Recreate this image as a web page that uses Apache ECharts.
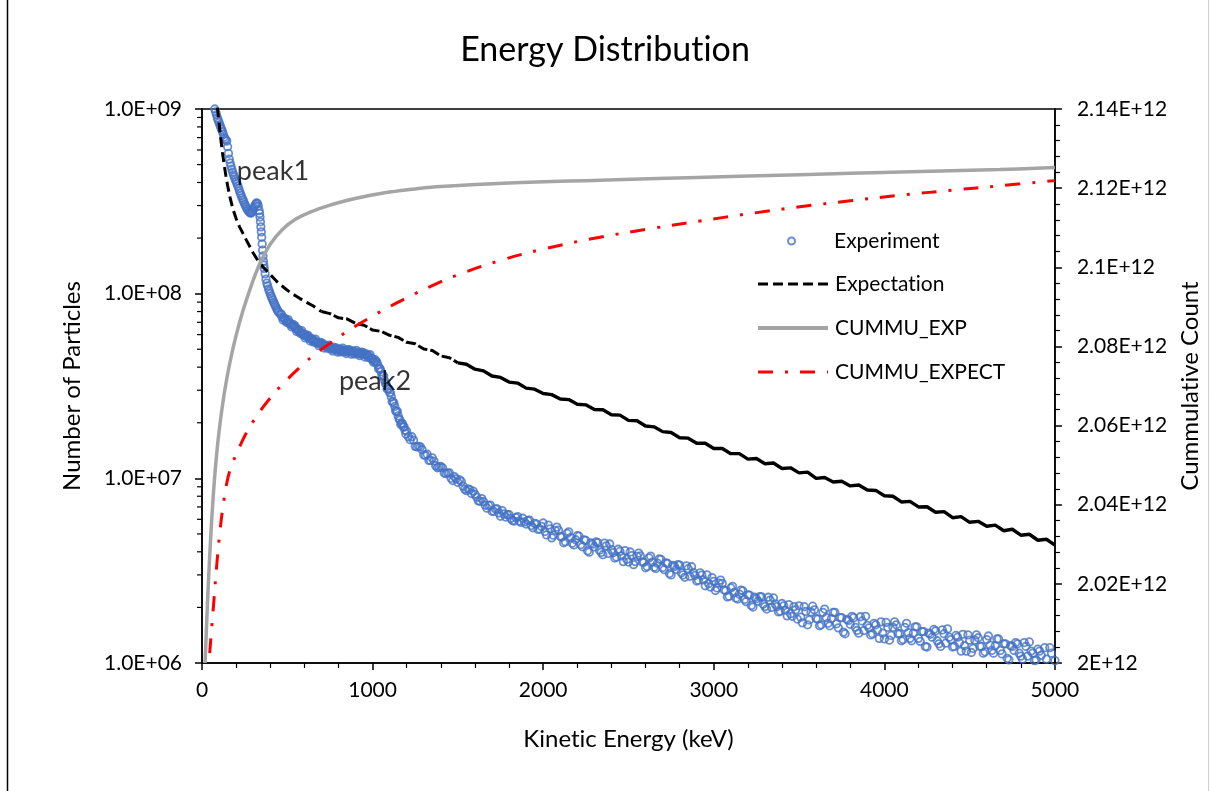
<!DOCTYPE html>
<html>
<head>
<meta charset="utf-8">
<title>Energy Distribution</title>
<script src="https://cdn.jsdelivr.net/npm/echarts@6/dist/echarts.min.js"></script>
<style>
  html, body { margin: 0; padding: 0; background: #ffffff; }
  #chart { width: 1210px; height: 791px; }
</style>
</head>
<body>
<div id="chart"></div>
<script>
// ---- Measured spectrum, main sampling (keV, particle count) ----
const experimentEnergy = [
  75,80,85,90,95,100,105,110,115,120,125,130,135,140,145,150,155,160,165,170,175,180,185,190,195,200,
  205,210,215,220,225,230,235,240,245,250,255,260,265,270,275,280,285,290,295,300,305,310,315,320,325,
  330,335,337.5,340,342.5,345,347.5,350,352.5,355,357.5,360,362.5,365,370,375,380,385,390,395,400,405,
  410,415,420,425,430,435,440,445,450,
  460,470,480,490,500,510,520,530,540,550,560,570,580,590,600,610,620,630,640,650,660,670,680,690,700,
  710,720,730,740,750,760,770,780,790,800,810,820,830,840,850,860,870,880,890,900,910,920,930,940,950,
  960,970,980,990,1000,1010,1020,1030,1040,1050,1060,1070,1080,1090,1100,1110,1120,1130,1140,1150,1160,
  1170,1180,1190,
  1200,1220,1240,1260,1280,1300,1320,1340,1360,1380,1400,1420,1440,1460,1480,1500,1520,1540,1560,1580,
  1600,1620,1640,1660,1680,1700,1720,1740,1760,1780,1800,1820,1840,1860,1880,1900,1920,1940,1960,1980,
  2000,2020,2040,2060,2080,2100,2120,2140,2160,2180,2200,2220,2240,2260,2280,2300,2320,2340,2360,2380,
  2400,2420,2440,2460,2480,2500,2520,2540,2560,2580,2600,2620,2640,2660,2680,2700,2720,2740,2760,2780,
  2800,2820,2840,2860,2880,2900,2920,2940,2960,2980,3000,3020,3040,3060,3080,3100,3120,3140,3160,3180,
  3200,3220,3240,3260,3280,3300,3320,3340,3360,3380,3400,3420,3440,3460,3480,3500,3520,3540,3560,3580,
  3600,3620,3640,3660,3680,3700,3720,3740,3760,3780,3800,3820,3840,3860,3880,3900,3920,3940,3960,3980,
  4000,4020,4040,4060,4080,4100,4120,4140,4160,4180,4200,4220,4240,4260,4280,4300,4320,4340,4360,4380,
  4400,4420,4440,4460,4480,4500,4520,4540,4560,4580,4600,4620,4640,4660,4680,4700,4720,4740,4760,4780,
  4800,4820,4840,4860,4880,4900,4920,4940,4960,4980,5000
];
const experimentCounts = [
  1.0e9,9.65e8,9.3e8,8.95e8,8.7e8,8.45e8,8.2e8,7.95e8,7.75e8,7.55e8,7.3e8,7.05e8,6.9e8,6.8e8,6.7e8,6.25e8,
  5.75e8,5.35e8,5.1e8,4.9e8,4.72e8,4.55e8,4.4e8,4.28e8,4.15e8,4.05e8,
  3.95e8,3.83e8,3.72e8,3.6e8,3.5e8,3.4e8,3.3e8,3.22e8,3.14e8,3.06e8,2.99e8,2.93e8,2.87e8,2.82e8,2.78e8,
  2.75e8,2.73e8,2.74e8,2.78e8,2.84e8,2.92e8,3.0e8,3.06e8,3.1e8,3.08e8,
  2.98e8,2.82e8,2.72e8,2.6e8,2.45e8,2.3e8,2.16e8,2.02e8,1.86e8,1.72e8,1.6e8,1.5e8,1.43e8,1.37e8,1.28e8,
  1.2e8,1.14e8,1.1e8,1.06e8,1.03e8,1.0e8,9.7e7,
  9.45e7,9.25e7,9.0e7,8.8e7,8.6e7,8.4e7,8.2e7,8.05e7,7.9e7,
  7.75e7,7.45e7,7.4e7,7.15e7,7.12e7,6.92e7,6.9e7,6.72e7,6.66e7,6.46e7,6.42e7,6.24e7,6.2e7,6.04e7,6.01e7,
  5.86e7,5.85e7,5.71e7,5.7e7,5.57e7,5.57e7,5.44e7,5.45e7,5.33e7,5.35e7,
  5.23e7,5.26e7,5.14e7,5.17e7,5.06e7,5.1e7,4.99e7,5.04e7,4.94e7,5.0e7,4.9e7,4.97e7,4.87e7,4.94e7,4.84e7,
  4.91e7,4.82e7,4.89e7,4.79e7,4.84e7,4.74e7,4.8e7,4.71e7,4.76e7,4.67e7,
  4.7e7,4.6e7,4.6e7,4.47e7,4.44e7,4.3e7,4.27e7,4.12e7,3.96e7,3.78e7,3.58e7,3.4e7,3.22e7,3.06e7,2.92e7,
  2.76e7,2.6e7,2.45e7,2.3e7,2.18e7,2.07e7,
  1.98e7,1.9e7,1.82e7,
  1.80e7,1.62e7,1.61e7,1.48e7,1.48e7,1.34e7,1.35e7,1.25e7,1.24e7,1.14e7,1.16e7,1.07e7,1.07e7,1.0e7,1.02e7,
  9.5e6,9.62e6,8.73e6,8.76e6,8.27e6,
  8.2e6,7.55e6,7.77e6,7.15e6,7.13e6,6.63e6,6.83e6,6.49e6,6.69e6,6.17e6,6.36e6,5.91e6,6.13e6,5.87e6,6.08e6,
  5.66e6,5.93e6,5.40e6,5.66e6,5.32e6,
  5.73e6,4.94e6,5.32e6,4.92e6,5.44e6,4.85e6,4.48e6,5.03e6,4.77e6,4.36e6,4.89e6,4.37e6,4.64e6,4.05e6,4.47e6,
  4.25e6,4.49e6,3.97e6,4.46e6,3.92e6,
  4.11e6,3.70e6,4.13e6,3.80e6,4.06e6,3.52e6,3.81e6,3.54e6,3.94e6,3.53e6,3.28e6,3.71e6,3.52e6,3.25e6,3.66e6,
  3.29e6,3.48e6,3.05e6,3.38e6,3.21e6,
  3.39e6,3.00e6,3.36e6,2.95e6,3.09e6,2.78e6,3.08e6,2.82e6,3.00e6,2.58e6,2.77e6,2.55e6,2.81e6,2.49e6,2.28e6,
  2.55e6,2.41e6,2.22e6,2.48e6,2.21e6,
  2.34e6,2.05e6,2.27e6,2.16e6,2.28e6,2.02e6,2.27e6,2.00e6,2.09e6,1.89e6,2.10e6,1.93e6,2.07e6,1.79e6,1.94e6,
  2.04e6,1.65e6,1.90e6,1.71e6,2.03e6,
  1.74e6,1.59e6,1.88e6,1.76e6,1.59e6,1.88e6,1.63e6,1.76e6,1.47e6,1.72e6,1.62e6,1.76e6,1.50e6,1.78e6,1.50e6,
  1.60e6,1.42e6,1.64e6,1.51e6,1.67e6,
  1.35e6,1.56e6,1.41e6,1.67e6,1.44e6,1.32e6,1.56e6,1.46e6,1.32e6,1.57e6,1.36e6,1.48e6,1.23e6,1.45e6,1.38e6,
  1.49e6,1.27e6,1.51e6,1.28e6,1.38e6,
  1.22e6,1.41e6,1.29e6,1.43e6,1.16e6,1.33e6,1.20e6,1.42e6,1.23e6,1.13e6,1.34e6,1.25e6,1.13e6,1.35e6,1.17e6,
  1.27e6,1.06e6,1.24e6,1.17e6,1.27e6,
  1.09e6,1.29e6,1.09e6,1.16e6,1.03e6,1.19e6,1.10e6,1.21e6,0.99e6,1.13e6,1.03e6
];

// ---- Measured spectrum, interleaved sampling (keV, particle count) ----
const experimentEnergyB = [
  465,475,485,495,505,515,525,535,545,555,565,575,585,595,605,615,625,635,645,655,665,675,685,695,705,
  715,725,735,745,755,765,775,785,795,805,815,825,835,845,855,865,875,885,895,905,915,925,935,945,955,
  965,975,985,995,1005,1015,1025,1035,1045,1055,1065,1075,1085,1095,1105,1115,1125,1135,1145,1155,1165,
  1175,1185,1195,
  1210,1230,1250,1270,1290,1310,1330,1350,1370,1390,1410,1430,1450,1470,1490,1510,1530,1550,1570,1590,
  1610,1630,1650,1670,1690,1710,1730,1750,1770,1790,1810,1830,1850,1870,1890,1910,1930,1950,1970,1990,
  2010,2030,2050,2070,2090,2110,2130,2150,2170,2190,2210,2230,2250,2270,2290,2310,2330,2350,2370,2390,
  2410,2430,2450,2470,2490,2510,2530,2550,2570,2590,2610,2630,2650,2670,2690,2710,2730,2750,2770,2790,
  2810,2830,2850,2870,2890,2910,2930,2950,2970,2990,3010,3030,3050,3070,3090,3110,3130,3150,3170,3190,
  3210,3230,3250,3270,3290,3310,3330,3350,3370,3390,3410,3430,3450,3470,3490,3510,3530,3550,3570,3590,
  3610,3630,3650,3670,3690,3710,3730,3750,3770,3790,3810,3830,3850,3870,3890,3910,3930,3950,3970,3990,
  4010,4030,4050,4070,4090,4110,4130,4150,4170,4190,4210,4230,4250,4270,4290,4310,4330,4350,4370,4390,
  4410,4430,4450,4470,4490,4510,4530,4550,4570,4590,4610,4630,4650,4670,4690,4710,4730,4750,4770,4790,
  4810,4830,4850,4870,4890,4910,4930,4950,4970,4990
];
const experimentCountsB = [
  7.75e7,7.2e7,7.34e7,7.0e7,7.24e7,6.86e7,6.61e7,6.81e7,6.69e7,6.25e7,6.38e7,6.1e7,6.3e7,5.97e7,5.76e7,
  5.98e7,5.9e7,5.54e7,5.69e7,5.46e7,5.68e7,5.4e7,5.23e7,5.44e7,5.4e7,
  5.08e7,5.25e7,5.06e7,5.27e7,5.03e7,4.89e7,5.11e7,5.09e7,4.82e7,5.0e7,4.84e7,5.07e7,4.85e7,4.74e7,4.97e7,
  4.96e7,4.7e7,4.89e7,4.71e7,4.93e7,4.72e7,4.62e7,4.83e7,4.8e7,4.54e7,
  4.7e7,4.52e7,4.68e7,4.42e7,4.25e7,4.39e7,4.27e7,3.92e7,3.91e7,3.61e7,3.59e7,3.28e7,3.05e7,3.05e7,2.9e7,
  2.6e7,2.55e7,2.32e7,2.31e7,2.1e7,1.96e7,
  1.98e7,1.9e7,1.74e7,
  1.68e7,1.68e7,1.49e7,1.49e7,1.43e7,1.33e7,1.25e7,1.29e7,1.17e7,1.15e7,1.14e7,1.06e7,1.07e7,9.73e6,9.94e6,
  9.81e6,9.08e6,8.57e6,8.68e6,8.52e6,
  7.91e6,7.51e6,7.49e6,6.89e6,7.16e6,6.63e6,6.83e6,6.23e6,6.42e6,6.35e6,6.07e6,5.87e6,6.21e6,5.77e6,5.81e6,
  5.91e6,5.55e6,5.70e6,5.29e6,5.49e6,
  5.15e6,5.58e6,4.76e6,5.23e6,5.24e6,4.81e6,4.54e6,5.13e6,4.45e6,4.65e6,4.86e6,4.26e6,4.61e6,3.98e6,4.40e6,
  4.52e6,4.08e6,3.86e6,4.31e6,4.41e6,
  3.96e6,3.75e6,4.02e6,3.54e6,3.65e6,3.99e6,3.41e6,3.78e6,3.80e6,3.51e6,3.33e6,3.79e6,3.30e6,3.47e6,3.64e6,
  3.20e6,3.46e6,3.00e6,3.33e6,3.41e6,
  3.08e6,2.91e6,3.24e6,3.32e6,2.98e6,2.81e6,2.99e6,2.62e6,2.69e6,2.90e6,2.47e6,2.71e6,2.70e6,2.46e6,2.30e6,
  2.60e6,2.25e6,2.36e6,2.46e6,2.15e6,
  2.33e6,2.01e6,2.23e6,2.29e6,2.08e6,1.96e6,2.19e6,2.25e6,2.02e6,1.91e6,2.04e6,1.80e6,1.85e6,2.02e6,1.73e6,
  1.77e6,2.02e6,1.61e6,1.89e6,1.94e6,
  1.73e6,1.61e6,1.96e6,1.64e6,1.74e6,1.88e6,1.55e6,1.76e6,1.44e6,1.70e6,1.79e6,1.56e6,1.45e6,1.69e6,1.79e6,
  1.55e6,1.44e6,1.61e6,1.36e6,1.45e6,
  1.66e6,1.33e6,1.56e6,1.61e6,1.44e6,1.34e6,1.64e6,1.36e6,1.45e6,1.57e6,1.31e6,1.48e6,1.22e6,1.43e6,1.52e6,
  1.32e6,1.23e6,1.44e6,1.53e6,1.34e6,
  1.23e6,1.38e6,1.16e6,1.24e6,1.42e6,1.14e6,1.33e6,1.37e6,1.23e6,1.15e6,1.40e6,1.17e6,1.24e6,1.35e6,1.12e6,
  1.27e6,1.04e6,1.23e6,1.29e6,1.13e6,
  1.05e6,1.23e6,1.30e6,1.13e6,1.04e6,1.16e6,0.99e6,1.05e6,1.21e6,0.97e6
];

// ---- Expected spectrum (keV, particle count) ----
const expectationEnergy = [
  90,100,110,120,130,140,150,165,180,200,220,240,260,280,300,330,360,400,440,480,520,560,600,650,
  700,750,800,850,900,950,1000,1050,1100,1150,1200,1250,1300,1350,1400,1450,1500,1550,1600,1650,
  1700,1750,1800,1850,1900,1950,2000,2050,2100,2150,2200,2250,2300,2350,2400,2450,2500,2550,2600,
  2650,2700,2750,2800,2850,2900,2950,3000,3050,3100,3150,3200,3250,3300,3350,3400,3450,3500,3550,
  3600,3650,3700,3750,3800,3850,3900,3950,4000,4050,4100,4150,4200,4250,4300,4350,4400,4450,4500,
  4550,4600,4650,4700,4750,4800,4850,4900,4950,5000
];
const expectationCounts = [
  1.02e9,8.4e8,6.9e8,5.8e8,5.0e8,4.35e8,3.85e8,3.3e8,2.9e8,2.55e8,2.3e8,2.12e8,1.95e8,1.8e8,1.66e8,
  1.5e8,1.39e8,1.27e8,1.16e8,1.08e8,1.01e8,9.6e7,9.1e7,8.6e7,
  8.0e7,7.8e7,7.4e7,7.3e7,6.9e7,6.75e7,6.35e7,6.25e7,5.95e7,5.8e7,5.45e7,5.35e7,5.02e7,4.92e7,4.6e7,
  4.5e7,4.22e7,4.15e7,3.9e7,3.82e7,
  3.58e7,3.52e7,3.32e7,3.28e7,3.08e7,3.04e7,2.88e7,2.84e7,2.69e7,2.67e7,2.52e7,2.5e7,2.36e7,2.35e7,
  2.21e7,2.2e7,2.06e7,2.05e7,1.92e7,
  1.9e7,1.79e7,1.77e7,1.66e7,1.65e7,1.55e7,1.55e7,1.45e7,1.45e7,1.36e7,1.36e7,1.27e7,1.28e7,1.2e7,
  1.21e7,1.13e7,1.14e7,1.07e7,1.08e7,
  1.0e7,1.01e7,9.55e6,9.65e6,9.1e6,9.2e6,8.65e6,8.6e6,8.05e6,8.0e6,7.45e6,7.5e6,7.0e6,7.02e6,6.55e6,
  6.6e6,6.12e6,6.2e6,5.78e6,
  5.85e6,5.5e6,5.58e6,5.2e6,5.3e6,4.92e6,4.98e6,4.62e6,4.68e6,4.35e6
];
// energies where the expectation trace changes dash pattern (long dashes, short gaps, continuous)
const expectationStyleBreaks = [700, 1500];

// ---- Cumulative counts (secondary axis) ----
const cumuExpEnergy = [
  18,25,32,40,50,64,80,100,130,164,200,240,290,340,400,470,550,650,750,860,967,1100,1250,1400,
  1800,2333,2900,3505,4100,4678,5000
];
const cumuExpTotals = [
  2.0000e12,2.0075e12,2.0150e12,2.0225e12,2.0310e12,2.0410e12,2.0500e12,2.0585e12,2.0680e12,2.0760e12,
  2.0828e12,2.0890e12,2.0955e12,2.1010e12,2.1058e12,2.1095e12,2.1122e12,2.1142e12,2.1157e12,2.1170e12,
  2.1180e12,2.1190e12,2.1198e12,2.1204e12,2.1213e12,2.1220e12,2.1227e12,2.1234e12,2.1241e12,2.1247e12,
  2.1252e12
];
const cumuExpectEnergy = [
  45,58,70,88,106,128,152,180,205,252,322,399,469,586,662,780,868,997,1102,1219,1337,1500,1747,2000,
  2333,2650,2919,3200,3505,3800,4091,4400,4678,5000
];
const cumuExpectTotals = [
  2.0025e12,2.0095e12,2.0159e12,2.0255e12,2.0336e12,2.0410e12,2.0468e12,2.0506e12,2.0531e12,2.0575e12,
  2.0625e12,2.0669e12,2.0703e12,2.0752e12,2.0780e12,2.0817e12,2.0843e12,2.0876e12,2.0901e12,2.0927e12,
  2.0951e12,2.0981e12,2.1017e12,2.1046e12,2.1076e12,2.1099e12,2.1117e12,2.1135e12,2.1153e12,2.1168e12,
  2.1182e12,2.1195e12,2.1206e12,2.1219e12
];

// ---- Axis ticks and labels ----
const xTickValues = [0, 1000, 2000, 3000, 4000, 5000];
const xTickLabels = ['0', '1000', '2000', '3000', '4000', '5000'];
const leftTickValues = [1e6, 1e7, 1e8, 1e9];
const leftTickLabels = ['1.0E+06', '1.0E+07', '1.0E+08', '1.0E+09'];
const leftMinorTickValues = [
  2e6,3e6,4e6,5e6,6e6,7e6,8e6,9e6, 2e7,3e7,4e7,5e7,6e7,7e7,8e7,9e7, 2e8,3e8,4e8,5e8,6e8,7e8,8e8,9e8
];
const rightTickValues = [2.00e12, 2.02e12, 2.04e12, 2.06e12, 2.08e12, 2.10e12, 2.12e12, 2.14e12];
const rightTickLabels = ['2E+12', '2.02E+12', '2.04E+12', '2.06E+12', '2.08E+12', '2.1E+12', '2.12E+12', '2.14E+12'];

// ---- Peak annotations (text, keV, count) ----
const peakNames = ['peak1', 'peak2'];
const peakEnergy = [416, 1014];
const peakCounts = [4.58e8, 3.34e7];

const FONT = 'Lato, "Noto Sans", sans-serif';
const INK = '#000000';

// Lato joins "ti" into a ligature; a zero-width non-joiner keeps the letters apart
const noLig = s => s.replace(/ti/g, 't\u200Ci');

function zip(xs, ys) { return xs.map((x, i) => [x, ys[i]]); }
function labelFor(values, labels, v, useLog) {
  const idx = values.findIndex(t => useLog
    ? Math.abs(Math.log10(t) - Math.log10(v)) < 1e-6
    : Math.abs(t - v) <= Math.abs(t) * 1e-9 + 1e-9);
  return idx >= 0 ? labels[idx] : '';
}

const expectationPairs = zip(expectationEnergy, expectationCounts);
const expectationParts = [
  expectationPairs.filter(p => p[0] <= expectationStyleBreaks[0]),
  expectationPairs.filter(p => p[0] >= expectationStyleBreaks[0] && p[0] <= expectationStyleBreaks[1]),
  expectationPairs.filter(p => p[0] >= expectationStyleBreaks[1])
];
const expectationDash = [[10, 5], [10, 3], 'solid'];

const chart = echarts.init(document.getElementById('chart'), null, { renderer: 'canvas' });

const legendText = { fontFamily: FONT, fontSize: 21, color: INK, lineHeight: 22 };
const hiddenSymbol = { color: 'rgba(0,0,0,0)', borderColor: 'rgba(0,0,0,0)', borderWidth: 0, opacity: 0 };

const expectationSeries = expectationParts.map((part, i) => ({
  name: 'Expectation', type: 'line', xAxisIndex: 0, yAxisIndex: 0,
  data: part,
  symbol: 'none', showSymbol: false,
  lineStyle: { color: '#000000', width: i === 2 ? 3.4 : 3, type: expectationDash[i] },
  itemStyle: { color: '#000000' },
  clip: true, z: 3
}));

const option = {
  backgroundColor: '#ffffff',
  animation: false,
  title: {
    text: noLig('Energy Distribution'),
    left: 'center',
    top: 28,
    textStyle: { fontFamily: FONT, fontSize: 34, fontWeight: 'normal', color: INK }
  },
  grid: {
    left: 202, right: 155, top: 109, bottom: 128,
    show: true, borderColor: '#000000', borderWidth: 1.5, backgroundColor: 'transparent'
  },
  legend: [
    {
      data: ['Experiment'],
      orient: 'vertical', left: 787, top: 230, padding: 0,
      itemWidth: 7, itemHeight: 7, itemGap: 22,
      formatter: noLig,
      textStyle: Object.assign({ padding: [0, 0, 0, 34] }, legendText)
    },
    {
      data: [
        { name: 'Expectation', lineStyle: { width: 3 } },
        { name: 'CUMMU_EXP', lineStyle: { width: 4 } },
        { name: 'CUMMU_EXPECT', lineStyle: { width: 3 } }
      ],
      orient: 'vertical', left: 756, top: 273, padding: 0,
      itemWidth: 70, itemHeight: 14, itemGap: 22,
      itemStyle: hiddenSymbol,
      formatter: noLig,
      textStyle: Object.assign({ padding: [0, 0, 0, 2] }, legendText)
    }
  ],
  xAxis: {
    type: 'value', min: 0, max: 5000, interval: 1000,
    name: noLig('Kinetic Energy (keV)'), nameLocation: 'middle', nameGap: 64,
    nameTextStyle: { fontFamily: FONT, fontSize: 24, color: INK },
    axisLine: { show: true, onZero: false, lineStyle: { color: '#000', width: 1.5 } },
    axisTick: { show: true, inside: false, length: 7, lineStyle: { color: '#000', width: 1.5 } },
    minorTick: { show: true, splitNumber: 5, length: 5, lineStyle: { color: '#000', width: 1.2 } },
    axisLabel: {
      margin: 17, fontFamily: FONT, fontSize: 21, color: INK,
      formatter: v => labelFor(xTickValues, xTickLabels, v, false)
    },
    splitLine: { show: false }
  },
  yAxis: [
    {
      type: 'log', logBase: 10, min: 1e6, max: 1e9,
      name: 'Number of Particles', nameLocation: 'middle', nameGap: 118, nameRotate: 90,
      nameTextStyle: { fontFamily: FONT, fontSize: 24, color: INK },
      axisLine: { show: true, onZero: false, lineStyle: { color: '#000', width: 1.5 } },
      axisTick: { show: true, inside: false, length: 7, lineStyle: { color: '#000', width: 1.5 } },
      axisLabel: {
        margin: 20, fontFamily: FONT, fontSize: 21, color: INK,
        formatter: v => labelFor(leftTickValues, leftTickLabels, v, true)
      },
      splitLine: { show: false }
    },
    {
      type: 'value', position: 'right', min: 2.0e12, max: 2.14e12, interval: 0.02e12,
      name: noLig('Cummulative Count'), nameLocation: 'middle', nameGap: 122, nameRotate: 90,
      nameTextStyle: { fontFamily: FONT, fontSize: 24, color: INK },
      axisLine: { show: true, onZero: false, lineStyle: { color: '#000', width: 1.5 } },
      axisTick: { show: true, inside: false, length: 7, lineStyle: { color: '#000', width: 1.5 } },
      minorTick: { show: true, splitNumber: 5, length: 5, lineStyle: { color: '#000', width: 1.2 } },
      axisLabel: {
        margin: 22, fontFamily: FONT, fontSize: 21, color: INK,
        formatter: v => labelFor(rightTickValues, rightTickLabels, v, false)
      },
      splitLine: { show: false }
    }
  ],
  series: [
    {
      name: 'Experiment', type: 'scatter', xAxisIndex: 0, yAxisIndex: 0,
      data: zip(experimentEnergy, experimentCounts).concat(zip(experimentEnergyB, experimentCountsB)),
      symbol: 'circle', symbolSize: 7.5,
      itemStyle: { color: 'rgba(255,255,255,0)', borderColor: '#4472C4', borderWidth: 1.8 },
      large: false, clip: true, z: 2
    }
  ].concat(expectationSeries, [
    {
      name: 'CUMMU_EXP', type: 'line', xAxisIndex: 0, yAxisIndex: 1,
      data: zip(cumuExpEnergy, cumuExpTotals),
      symbol: 'none', showSymbol: false, smooth: 0.4,
      lineStyle: { color: '#A5A5A5', width: 3.5 },
      itemStyle: { color: '#A5A5A5' },
      clip: true, z: 4
    },
    {
      name: 'CUMMU_EXPECT', type: 'line', xAxisIndex: 0, yAxisIndex: 1,
      data: zip(cumuExpectEnergy, cumuExpectTotals),
      symbol: 'none', showSymbol: false, smooth: 0.4,
      lineStyle: { color: '#FF0000', width: 3, type: [15, 12, 3, 12] },
      itemStyle: { color: '#FF0000' },
      clip: true, z: 5
    },
    {
      // log-scale minor ticks (2..9 per decade) on the left axis
      name: 'leftMinorTicks', type: 'custom', xAxisIndex: 0, yAxisIndex: 0,
      data: leftMinorTickValues.map(v => [0, v]),
      silent: true, z: 10,
      renderItem: (params, api) => {
        const p = api.coord([0, api.value(1)]);
        return {
          type: 'line',
          shape: { x1: p[0] - 5, y1: p[1], x2: p[0], y2: p[1] },
          style: { stroke: '#000', lineWidth: 1.2 }
        };
      }
    },
    {
      name: 'peaks', type: 'scatter', xAxisIndex: 0, yAxisIndex: 0,
      data: peakNames.map((n, i) => [peakEnergy[i], peakCounts[i], n]),
      symbolSize: 0, silent: true, z: 12,
      label: {
        show: true, position: 'inside', formatter: p => p.value[2],
        fontFamily: FONT, fontSize: 27, color: INK
      }
    }
  ]),
  graphic: [
    { type: 'line', shape: { x1: 7.5, y1: 0, x2: 7.5, y2: 791 }, style: { stroke: '#000', lineWidth: 1.5 }, silent: true },
    { type: 'line', shape: { x1: 1208.5, y1: 0, x2: 1208.5, y2: 791 }, style: { stroke: '#D0D0D0', lineWidth: 1 }, silent: true }
  ]
};

chart.setOption(option);
</script>
</body>
</html>
